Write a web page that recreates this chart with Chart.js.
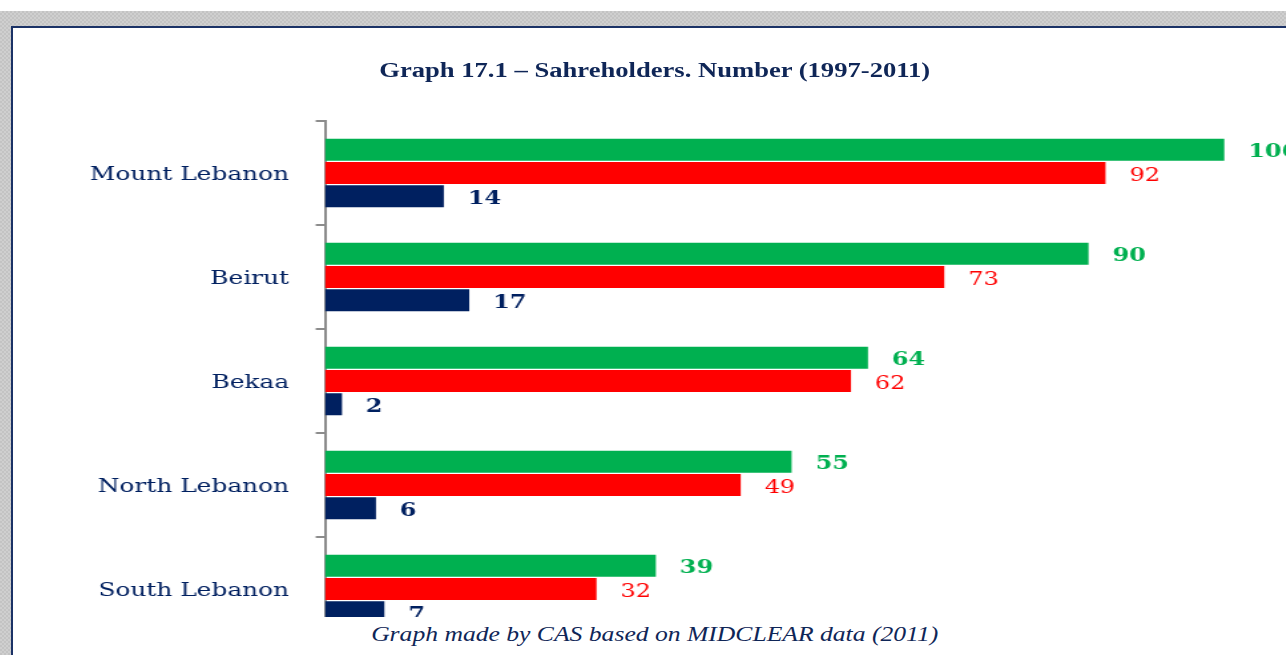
<!DOCTYPE html>
<html>
<head>
<meta charset="utf-8">
<script src="https://cdn.jsdelivr.net/npm/chart.js@4.4.1/dist/chart.umd.min.js"></script>
<style>
  html, body { margin: 0; padding: 0; width: 1286px; height: 655px; overflow: hidden; background: #fff; }
  #frame {
    position: absolute; left: 0; top: 11px; width: 1286px; height: 644px;
    background: repeating-conic-gradient(#c3c3c3 0% 25%, #cfcfcf 0% 50%) 0 0 / 4px 4px;
  }
  #panel {
    position: absolute; left: 11px; top: 26px; width: 1400px; height: 700px;
    border: 2px solid #1b3266; background: #fff; overflow: hidden;
  }
  /* the whole drawing is widened horizontally */
  #stage {
    position: absolute; left: 0; top: 0; width: 980px; height: 680px;
    transform: scaleX(1.33); transform-origin: 0 0;
  }
  #chart { position: absolute; left: 0; top: 0; }
  #title {
    position: absolute; left: 0; top: 30px; width: 965px; text-align: center;
    font: bold 20px/24px "Liberation Serif", serif; color: #0f2657;
  }
  #footer {
    position: absolute; left: 0; top: 589px; width: 980px; height: 100px; background: #fff;
  }
  #footer div {
    width: 965px; margin-top: 3px; text-align: center;
    font: italic 21px/28px "Liberation Serif", serif; color: #0f2657;
    transform: scaleX(0.917); transform-origin: 482.5px 0;
  }
</style>
</head>
<body>
<div id="frame"></div>
<div id="panel">
  <div id="stage">
    <canvas id="chart" width="980" height="680"></canvas>
    <div id="title">Graph 17.1 – Sahreholders. Number (1997-2011)</div>
    <div id="footer"><div>Graph made by CAS based on MIDCLEAR data (2011)</div></div>
  </div>
</div>
<script>
// ── Data ─────────────────────────────────────────────────────
const regions   = ['Mount Lebanon', 'Beirut', 'Bekaa', 'North Lebanon', 'South Lebanon'];
const seriesTop = [106, 90, 64, 55, 39];
const seriesMid = [92, 73, 62, 49, 32];
const seriesLow = [14, 17, 2, 6, 7];

// ── Palette ──────────────────────────────────────────────────
const COLORS = {
  green: '#00b050',
  red:   '#ff0000',
  navy:  '#002060',
  axis:  '#8c8c8c',
};

// value printed just past the end of every bar
const barValues = {
  id: 'barValues',
  afterDatasetsDraw(chart) {
    const ctx = chart.ctx;
    ctx.save();
    ctx.textBaseline = 'middle';
    ctx.textAlign = 'left';
    chart.data.datasets.forEach((ds, i) => {
      const meta = chart.getDatasetMeta(i);
      ctx.font = ds.valueFont;
      ctx.fillStyle = ds.backgroundColor;
      meta.data.forEach((bar, j) => {
        ctx.fillText(String(ds.data[j]), bar.x + 18, bar.y + 3);
      });
    });
    ctx.restore();
  }
};

new Chart(document.getElementById('chart'), {
  type: 'bar',
  data: {
    labels: regions,
    datasets: [
      { label: 'A', data: seriesTop, backgroundColor: COLORS.green, valueFont: 'bold 18px "DejaVu Serif"' },
      { label: 'B', data: seriesMid, backgroundColor: COLORS.red,   valueFont: '18px "DejaVu Serif"' },
      { label: 'C', data: seriesLow, backgroundColor: COLORS.navy,  valueFont: 'bold 18px "DejaVu Serif"' },
    ]
  },
  options: {
    indexAxis: 'y',
    responsive: false,
    animation: false,
    devicePixelRatio: 1,
    categoryPercentage: 0.67,
    barPercentage: 0.95,
    layout: { padding: { top: 93, bottom: 67, left: 0, right: 31 } },
    plugins: {
      legend: { display: false },
      tooltip: { enabled: false },
    },
    scales: {
      x: { min: 0, max: 112, display: false },
      y: {
        afterFit: s => { s.width = 234.6; },
        grid: { offset: true, drawOnChartArea: false, tickLength: 7, color: COLORS.axis, lineWidth: 2 },
        border: { color: COLORS.axis, width: 2 },
        ticks: { color: COLORS.navy, padding: 20, labelOffset: 2, font: { family: 'DejaVu Serif', size: 18.7 } },
      }
    }
  },
  plugins: [barValues],
});
</script>
</body>
</html>
